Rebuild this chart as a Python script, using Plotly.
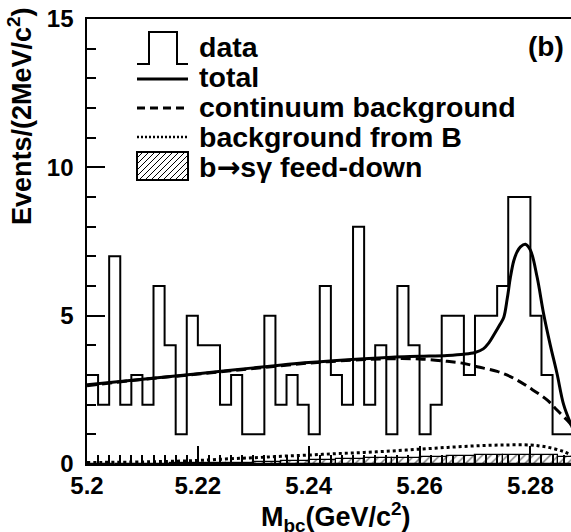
import plotly.graph_objects as go

# ---------------- data ----------------
bin_start = 5.2
bin_width = 0.002
data_counts = [3, 2, 7, 2, 3, 2, 6, 4, 1, 5, 4, 4, 2, 3, 1, 1, 5, 2, 3, 2,
               1, 6, 3, 2, 8, 2, 4, 1, 6, 4, 1, 2, 5, 5, 3, 5, 5, 6, 9, 9,
               5, 3, 1, 1, 1]

feed_start = 5.2
feed_width = 0.005
feed_vals = [0.0, 0.0, 0.01, 0.02, 0.03, 0.05, 0.07, 0.10, 0.13, 0.16,
             0.19, 0.21, 0.22, 0.27, 0.30, 0.32, 0.31, 0.22]

total_x = [5.200, 5.210, 5.220, 5.230, 5.240, 5.250, 5.255, 5.260, 5.265, 5.268,
           5.270, 5.2715, 5.2725, 5.2735, 5.2745, 5.2752, 5.2758, 5.2764, 5.2770,
           5.2776, 5.2782, 5.2791, 5.2800, 5.2812, 5.2824, 5.2836, 5.2848,
           5.2860, 5.2874, 5.2880]
total_y = [2.67, 2.86, 3.04, 3.24, 3.42, 3.55, 3.60, 3.63, 3.66, 3.70,
           3.76, 3.88, 4.08, 4.38, 4.70, 4.95, 5.55, 6.30, 6.85,
           7.15, 7.32, 7.41, 7.21, 6.31, 5.05, 4.00, 3.05,
           2.00, 1.30, 1.05]

cont_x = [5.200, 5.210, 5.220, 5.230, 5.240, 5.250, 5.255, 5.260, 5.265, 5.268,
          5.2704, 5.2740, 5.2770, 5.2800, 5.2830, 5.2848, 5.2866, 5.2874, 5.2880]
cont_y = [2.64, 2.85, 3.03, 3.22, 3.40, 3.52, 3.55, 3.54, 3.46, 3.39,
          3.28, 3.12, 2.89, 2.55, 2.16, 1.82, 1.48, 1.31, 1.15]

bkgB_x = [5.200, 5.210, 5.215, 5.220, 5.225, 5.230, 5.235, 5.240, 5.245, 5.250,
          5.255, 5.260, 5.265, 5.270, 5.275, 5.280, 5.282, 5.284, 5.286, 5.2874]
bkgB_y = [0.05, 0.07, 0.09, 0.12, 0.17, 0.21, 0.26, 0.30, 0.35, 0.39,
          0.44, 0.50, 0.56, 0.61, 0.64, 0.64, 0.60, 0.53, 0.42, 0.30]

x_tickvals = [5.2, 5.22, 5.24, 5.26, 5.28]
x_ticktext = ["5.2", "5.22", "5.24", "5.26", "5.28"]
y_tickvals = [0, 5, 10, 15]
y_ticktext = ["0", "5", "10", "15"]

legend_labels = ["data", "total", "continuum background", "background from B",
                 "b<span style='font-family:DejaVu Sans'>\u2192</span>s\u03b3 feed-down"]

# ---------------- layout geometry ----------------
W, H = 571, 532
ML, MR, MT, MB = 87, 0, 19, 68
PW, PH = W - ML - MR, H - MT - MB
X0, X1 = 5.2, 5.2 + PW / 5542.5
FONT = "Liberation Sans, Arial, Helvetica, sans-serif"


def px(p):
    return (p - ML) / PW


def py(p):
    return (H - MB - p) / PH


# histogram step arrays
edges = [bin_start + bin_width * i for i in range(len(data_counts) + 1)]
step_y = data_counts + [data_counts[-1]]
feed_centers = [feed_start + feed_width * (i + 0.5) for i in range(len(feed_vals))]

fig = go.Figure()

fig.add_trace(go.Bar(
    x=feed_centers, y=feed_vals, width=feed_width,
    marker=dict(color="white", line=dict(color="black", width=1.2),
                pattern=dict(shape="/", fgcolor="black", bgcolor="white",
                             size=6, solidity=0.25)),
    showlegend=False, hoverinfo="skip"))

fig.add_trace(go.Scatter(x=edges, y=step_y, mode="lines",
                         line=dict(color="black", width=2, shape="hv"),
                         showlegend=False))
fig.add_trace(go.Scatter(x=bkgB_x, y=bkgB_y, mode="lines",
                         line=dict(color="black", width=3, dash="3px,3px", shape="spline"),
                         showlegend=False))
fig.add_trace(go.Scatter(x=cont_x, y=cont_y, mode="lines",
                         line=dict(color="black", width=3, dash="10px,5px", shape="spline"),
                         showlegend=False))
fig.add_trace(go.Scatter(x=total_x, y=total_y, mode="lines",
                         line=dict(color="black", width=3, shape="spline"),
                         showlegend=False))

# ---------------- hand-drawn legend ----------------
lx0, lx1 = 137, 188
bt, bb = 152, 180
shapes = [
    dict(type="path", xref="paper", yref="paper",
         path=f"M {px(lx0)},{py(64)} L {px(149)},{py(64)} L {px(149)},{py(32)} "
              f"L {px(177)},{py(32)} L {px(177)},{py(64)} L {px(lx1)},{py(64)}",
         line=dict(color="black", width=2)),
    dict(type="line", xref="paper", yref="paper", x0=px(lx0), x1=px(lx1),
         y0=py(79), y1=py(79), line=dict(color="black", width=3)),
    dict(type="line", xref="paper", yref="paper", x0=px(lx0), x1=px(lx1),
         y0=py(108), y1=py(108), line=dict(color="black", width=3, dash="8px,5px")),
    dict(type="line", xref="paper", yref="paper", x0=px(lx0), x1=px(lx1),
         y0=py(137), y1=py(137), line=dict(color="black", width=2.5, dash="2px,2px")),
]
# hatch lines inside the legend box
hh = bb - bt
t = lx0 - hh
while t < lx1:
    xs, ys = t, bb
    xe, ye = t + hh, bt
    if xs < lx0:
        ys = bb - (lx0 - xs)
        xs = lx0
    if xe > lx1:
        ye = bt + (xe - lx1)
        xe = lx1
    if xe > xs:
        shapes.append(dict(type="line", xref="paper", yref="paper",
                           x0=px(xs), y0=py(ys), x1=px(xe), y1=py(ye),
                           line=dict(color="black", width=1)))
    t += 6
shapes.append(dict(type="rect", xref="paper", yref="paper", x0=px(lx0), x1=px(lx1),
                   y0=py(bb), y1=py(bt), line=dict(color="black", width=2)))

annotations = []
for lab, yc in zip(legend_labels, [47, 77, 107, 137, 167]):
    annotations.append(dict(text=lab, x=px(197), y=py(yc), xref="paper", yref="paper",
                            xanchor="left", yanchor="middle", showarrow=False,
                            font=dict(family=FONT, size=28.5, color="black", weight="bold")))
annotations.append(dict(text="(b)", x=px(546), y=py(47), xref="paper", yref="paper",
                        xanchor="center", yanchor="middle", showarrow=False,
                        font=dict(family=FONT, size=28, color="black", weight="bold")))
annotations.append(dict(text="Events/(2MeV/c<sup>2</sup>)", x=px(20), y=py(5),
                        xref="paper", yref="paper", xanchor="center", yanchor="top",
                        textangle=-90, showarrow=False,
                        font=dict(family=FONT, size=27, color="black", weight="bold")))
annotations.append(dict(text="M<sub>bc</sub>(GeV/c<sup>2</sup>)", x=px(336), y=py(517),
                        xref="paper", yref="paper", xanchor="center", yanchor="middle",
                        showarrow=False,
                        font=dict(family=FONT, size=27, color="black", weight="bold")))

fig.update_layout(
    width=W, height=H,
    margin=dict(l=ML, r=MR, t=MT, b=MB, pad=0),
    paper_bgcolor="white", plot_bgcolor="white",
    showlegend=False, bargap=0,
    shapes=shapes, annotations=annotations,
    font=dict(family=FONT, color="black"),
)
fig.update_xaxes(range=[X0, X1], showgrid=False, zeroline=False,
                 showline=True, linecolor="black", linewidth=2, mirror=True,
                 ticks="inside", ticklen=18, tickwidth=2, tickcolor="black",
                 tickvals=x_tickvals, ticktext=x_ticktext, ticklabelstandoff=-1,
                 tickfont=dict(family=FONT, size=24, color="black", weight="bold"),
                 minor=dict(ticks="inside", dtick=0.002, tick0=5.2, ticklen=9,
                            tickwidth=1.5, tickcolor="black"))
fig.update_yaxes(range=[0, 15], showgrid=False, zeroline=False,
                 showline=True, linecolor="black", linewidth=2, mirror=False,
                 ticks="inside", ticklen=18, tickwidth=2, tickcolor="black",
                 tickvals=y_tickvals, ticktext=[t + "\u00a0" for t in y_ticktext],
                 tickfont=dict(family=FONT, size=24, color="black", weight="bold"),
                 minor=dict(ticks="inside", dtick=1, tick0=0, ticklen=9,
                            tickwidth=1.5, tickcolor="black"))

fig.write_html("out.html")
